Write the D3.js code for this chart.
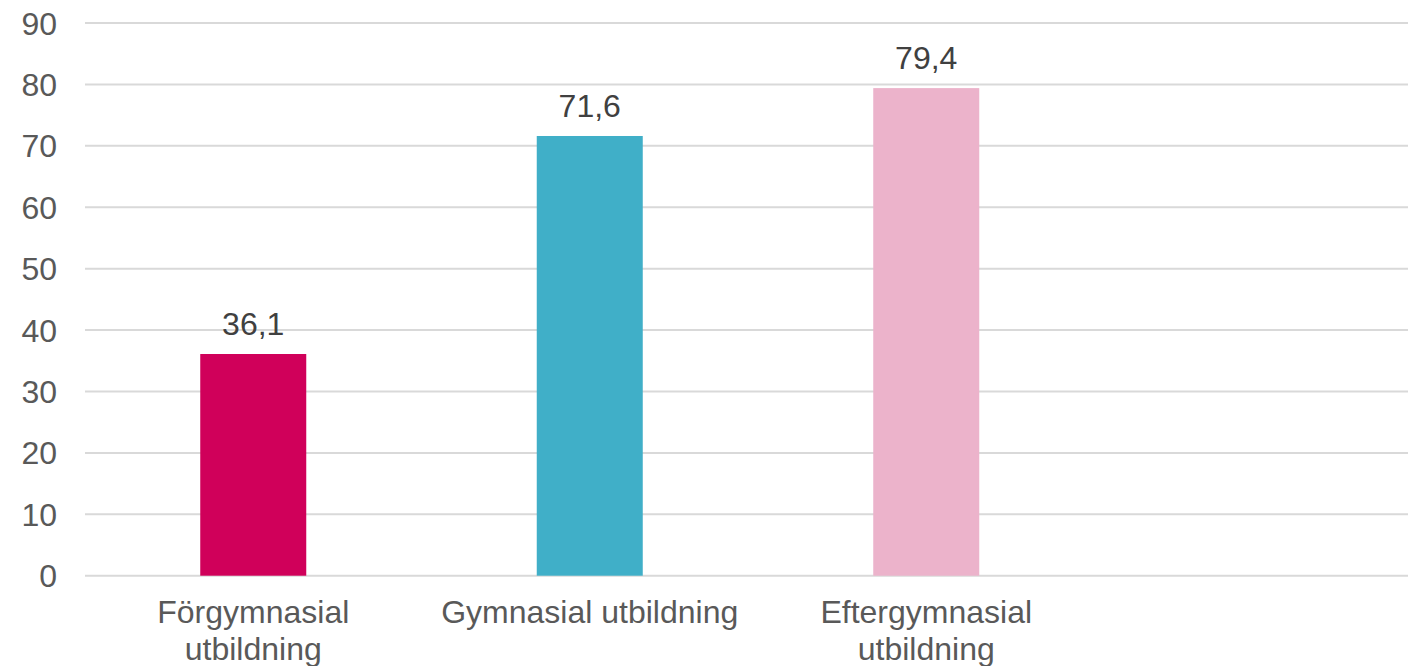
<!DOCTYPE html>
<html><head><meta charset="utf-8">
<script src="https://cdn.jsdelivr.net/npm/d3@7"></script>
<style>html,body{margin:0;padding:0;background:#fff;}svg{display:block;font-family:"Liberation Sans",Arial,sans-serif;}</style>
</head><body>
<svg id="c" width="1408" height="666"></svg>
<script>
const categories = ["Förgymnasial utbildning", "Gymnasial utbildning", "Eftergymnasial utbildning"];
const values = [36.1, 71.6, 79.4];
const colors = ["#D0005A", "#40AFC8", "#ECB3CB"];
const yTicks = [0, 10, 20, 30, 40, 50, 60, 70, 80, 90];

(function(){
const svg = d3.select("#c");
const mLeft = 85, mRight = 1408, mTop = 23, mBottom = 575.7;
const step = 336.5;
const x = d3.scaleBand().domain(categories).range([mLeft, mLeft + step * categories.length])
  .paddingInner(0.685).paddingOuter(0.3425);
const y = d3.scaleLinear().domain([0, 90]).range([mBottom, mTop]);

svg.append("g").selectAll("line").data(yTicks).join("line")
  .attr("x1", mLeft).attr("x2", mRight)
  .attr("y1", d => y(d)).attr("y2", d => y(d))
  .attr("stroke", "#d9d9d9").attr("stroke-width", 2);

svg.append("g").selectAll("text").data(yTicks).join("text")
  .attr("x", 57).attr("y", d => y(d)).attr("dy", "0.36em")
  .attr("text-anchor", "end").attr("font-size", 32).attr("fill", "#595959")
  .text(d => d);

svg.append("g").selectAll("rect").data(values).join("rect")
  .attr("x", (d, i) => x(categories[i])).attr("width", x.bandwidth())
  .attr("y", d => y(d)).attr("height", d => y(0) - y(d))
  .attr("fill", (d, i) => colors[i]);

svg.append("g").selectAll("text").data(values).join("text")
  .attr("x", (d, i) => x(categories[i]) + x.bandwidth() / 2)
  .attr("y", d => y(d) - 19)
  .attr("text-anchor", "middle").attr("font-size", 32).attr("fill", "#404040")
  .text(d => d.toFixed(1).replace(".", ","));

const maxW = 310;
const cg = svg.append("g");
categories.forEach((c, i) => {
  const cx = x(c) + x.bandwidth() / 2;
  const t = cg.append("text").attr("text-anchor", "middle").attr("font-size", 32).attr("fill", "#595959");
  const words = c.split(" ");
  let lines = [], cur = [];
  const probe = svg.append("text").attr("font-size", 32);
  words.forEach(w => {
    const test = cur.concat([w]).join(" ");
    probe.text(test);
    if (probe.node().getComputedTextLength() > maxW && cur.length) { lines.push(cur.join(" ")); cur = [w]; }
    else cur.push(w);
  });
  lines.push(cur.join(" "));
  probe.remove();
  lines.forEach((l, j) => {
    t.append("tspan").attr("x", cx).attr("y", 623 + j * 37).text(l);
  });
});
})();
</script>
</body></html>
